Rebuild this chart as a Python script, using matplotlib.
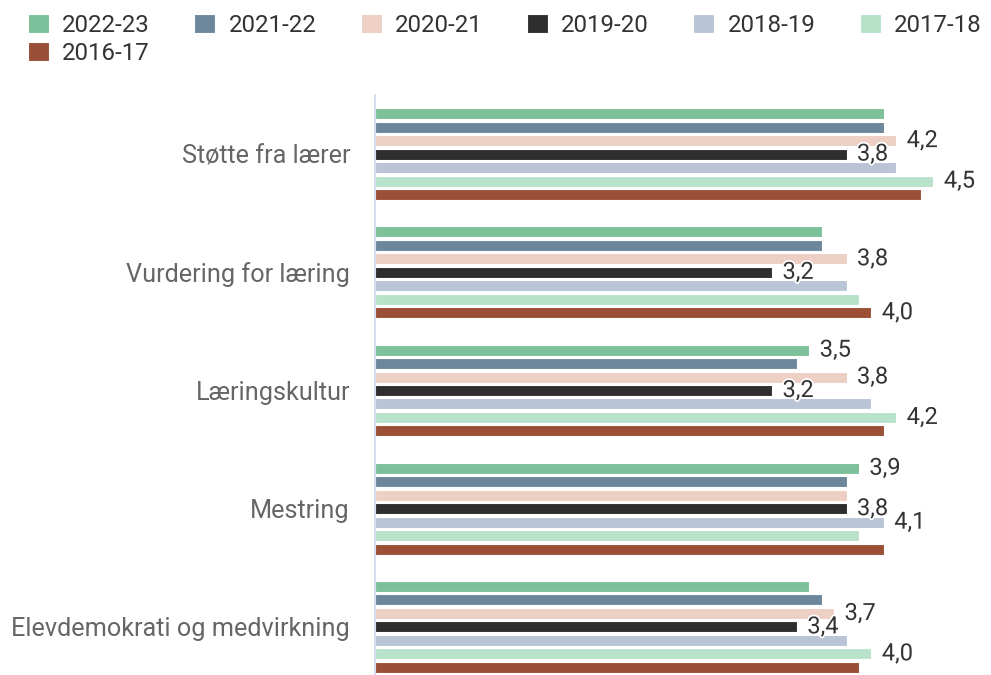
import matplotlib
matplotlib.use("Agg")
import matplotlib.pyplot as plt
import matplotlib.patheffects as pe
import numpy as np

categories = ["Støtte fra lærer", "Vurdering for læring", "Læringskultur",
              "Mestring", "Elevdemokrati og medvirkning"]
series_names = ["2022-23", "2021-22", "2020-21", "2019-20", "2018-19", "2017-18", "2016-17"]

v_2022_23 = [4.1, 3.6, 3.5, 3.9, 3.5]
v_2021_22 = [4.1, 3.6, 3.4, 3.8, 3.6]
v_2020_21 = [4.2, 3.8, 3.8, 3.8, 3.7]
v_2019_20 = [3.8, 3.2, 3.2, 3.8, 3.4]
v_2018_19 = [4.2, 3.8, 4.0, 4.1, 3.8]
v_2017_18 = [4.5, 3.9, 4.2, 3.9, 4.0]
v_2016_17 = [4.4, 4.0, 4.1, 4.1, 3.9]

# which data labels are visible in the reference
lab_2022_23 = [False, False, True, True, False]
lab_2021_22 = [False, False, False, False, False]
lab_2020_21 = [True, True, True, False, True]
lab_2019_20 = [True, True, True, True, True]
lab_2018_19 = [False, False, False, True, False]
lab_2017_18 = [True, False, True, False, True]
lab_2016_17 = [False, True, False, False, False]

colors = ["#7cc19a", "#6c879c", "#eecfc3", "#2e2e2e", "#b9c4d7", "#b9e2cb", "#9b4f37"]

values = [v_2022_23, v_2021_22, v_2020_21, v_2019_20, v_2018_19, v_2017_18, v_2016_17]
labels_on = [lab_2022_23, lab_2021_22, lab_2020_21, lab_2019_20, lab_2018_19, lab_2017_18, lab_2016_17]

plt.rcParams["font.family"] = ["Roboto", "DejaVu Sans"]

W, H = 991, 675
fig = plt.figure(figsize=(W / 100, H / 100), dpi=100)
ax_left, ax_right = 375 / W, 971 / W
ax_top, ax_bot = 1 - 95 / H, -11 / H
ax = fig.add_axes([ax_left, ax_bot, ax_right - ax_left, ax_top - ax_bot])

n_ser = len(series_names)
y = np.arange(len(categories))
pitch = 0.114
bar_h = 0.093
handles = []
for i, (name, vals, col, lab) in enumerate(zip(series_names, values, colors, labels_on)):
    off = (i - (n_ser - 1) / 2) * pitch
    bars = ax.barh(y + off, vals, height=bar_h, color=col, edgecolor="white",
                   linewidth=0.8, label=name, zorder=2)
    handles.append(bars)
    for yy, v, show in zip(y + off, vals, lab):
        if show:
            ax.annotate(f"{v:.1f}".replace(".", ","), xy=(v, yy), xytext=(7.5, 0),
                        textcoords="offset points", ha="left", va="center",
                        fontsize=17, color="#333333",
                        path_effects=[pe.withStroke(linewidth=2.5, foreground="white")],
                        zorder=3, annotation_clip=False)

ax.set_xlim(0, (971 - 375) / 124.1)
ax.set_ylim(len(categories) - 0.5, -0.5)
ax.set_yticks(y)
ax.set_yticklabels(categories, fontsize=18.2, color="#666666")
ax.tick_params(axis="y", length=0, pad=18)
ax.set_xticks([])
for s in ["top", "right", "bottom"]:
    ax.spines[s].set_visible(False)
ax.spines["left"].set_color("#ccd6eb")
ax.spines["left"].set_linewidth(1.2)

# legend: reorder so matplotlib's column filling gives row-major order
order = [0, 6, 1, 2, 3, 4, 5]
leg = fig.legend([handles[k] for k in order], [series_names[k] for k in order],
                 loc="upper left", bbox_to_anchor=(28 / W, 1 - 14 / H), ncol=6,
                 frameon=False, fontsize=17.3, handlelength=0.87, handleheight=0.87,
                 handletextpad=0.55, columnspacing=1.85, labelspacing=0.2,
                 borderpad=0, borderaxespad=0)
for t in leg.get_texts():
    t.set_color("#333333")

fig.savefig("out.png", dpi=100, facecolor="white")
